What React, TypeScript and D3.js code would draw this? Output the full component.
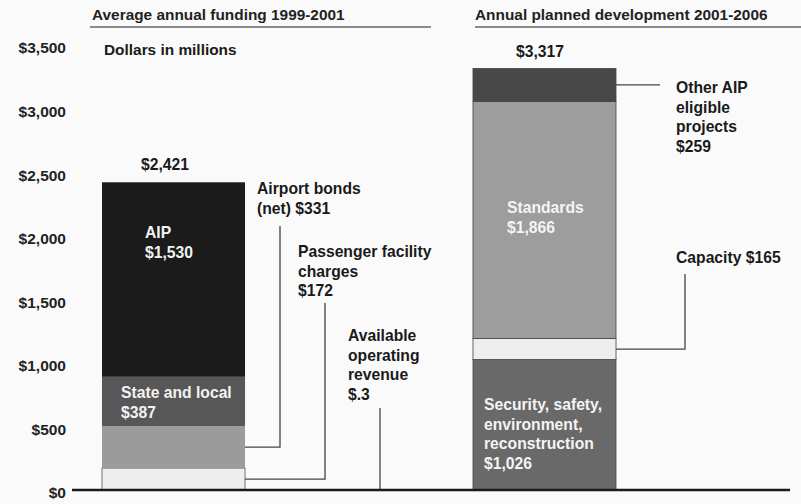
import React from 'react';
import * as d3 from 'd3';

// Values in millions of dollars, stacked bottom to top
const fundingSources = ['Available operating revenue', 'Passenger facility charges', 'Airport bonds (net)', 'State and local', 'AIP'];
const fundingValues = [0.3, 172, 331, 387, 1530];
const fundingColors = ['#f0f0f0', '#eeeeee', '#9b9b9b', '#575757', '#1b1b1b'];
const fundingTotal = '$2,421';

const developmentTypes = ['Security, safety, environment, reconstruction', 'Capacity', 'Standards', 'Other AIP eligible projects'];
const developmentValues = [1026, 165, 1866, 259];
const developmentColors = ['#696969', '#eeeeee', '#9d9d9d', '#484848'];
const developmentTotal = '$3,317';

const yTicks = [0, 500, 1000, 1500, 2000, 2500, 3000, 3500];

const W = 801;
const H = 504;
const FONT = '"Liberation Sans", Arial, Helvetica, sans-serif';

const stackUp = (values: number[]) => {
  let acc = 0;
  return values.map(v => {
    const y0 = acc;
    acc += v;
    return { y0, y1: acc, v };
  });
};

const App: React.FC = () => {
  const y = d3.scaleLinear().domain([0, 3500]).range([490, 45]);
  const x = d3.scaleBand().domain(['left', 'right']).range([102, 616]).paddingInner(0.6145).paddingOuter(0);
  const bw = x.bandwidth();
  const lx = x('left') || 0;
  const rx = x('right') || 0;

  const leftStack = stackUp(fundingValues);
  const rightStack = stackUp(developmentValues);
  const mid = (s: { y0: number; y1: number }) => y((s.y0 + s.y1) / 2);

  const txt = (xx: number, yy: number, lines: string[], fill = '#1a1a1a', anchor = 'start', size = 15.7) => (
    <text x={xx} y={yy} fill={fill} textAnchor={anchor} fontSize={size} fontWeight="bold" fontFamily={FONT}>
      {lines.map((l, i) => (
        <tspan key={i} x={xx} dy={i === 0 ? 0 : 19.5}>{l}</tspan>
      ))}
    </text>
  );

  return (
    <div style={{ position: 'fixed', left: 0, top: 0 }}>
      <svg width={W} height={H} style={{ display: 'block', background: '#fafafa' }}>
        {/* headers */}
        <text x={92} y={20} fontSize={15.4} fontWeight="bold" fontFamily={FONT} fill="#222">Average annual funding 1999-2001</text>
        <line x1={90} x2={431} y1={27} y2={27} stroke="#666" strokeWidth={1.5} />
        <text x={475} y={20} fontSize={15.4} fontWeight="bold" fontFamily={FONT} fill="#222">Annual planned development 2001-2006</text>
        <line x1={475} x2={801} y1={27} y2={27} stroke="#666" strokeWidth={1.5} />

        {/* y tick labels */}
        {yTicks.map(t => (
          <text key={t} x={66} y={y(t) + 3} dy="0.35em" textAnchor="end" fontSize={15.5} fontWeight="bold" fontFamily={FONT} fill="#222">
            {d3.format('$,')(t)}
          </text>
        ))}
        {txt(104, 55, ['Dollars in millions'], '#1a1a1a', 'start', 15.4)}

        {/* left bar */}
        {leftStack.map((s, i) => (
          <rect key={i} x={lx} width={bw} y={y(s.y1)} height={y(s.y0) - y(s.y1)} fill={fundingColors[i]}
            stroke={i < 2 ? '#555' : 'none'} strokeWidth={i < 2 ? 0.8 : 0} />
        ))}
        {/* right bar */}
        {rightStack.map((s, i) => (
          <rect key={i} x={rx} width={bw} y={y(s.y1)} height={y(s.y0) - y(s.y1)} fill={developmentColors[i]}
            stroke="#444" strokeWidth={0.8} />
        ))}

        {/* totals */}
        {txt(165, y(d3.sum(fundingValues)) - 12, [fundingTotal], '#1a1a1a', 'middle')}
        {txt(540, y(d3.sum(developmentValues)) - 11, [developmentTotal], '#1a1a1a', 'middle')}

        {/* labels inside bars */}
        {txt(145, 238, ['AIP', '$1,530'], '#f2f2f2')}
        {txt(121, 398, ['State and local', '$387'], '#f2f2f2')}
        {txt(507, 213, ['Standards', '$1,866'], '#f4f4f4')}
        {txt(484, 410, ['Security, safety,', 'environment,', 'reconstruction', '$1,026'], '#f4f4f4')}

        {/* connectors */}
        <g stroke="#444" strokeWidth={1.3} fill="none">
          <polyline points={`${lx + bw},${mid(leftStack[2])} 280,${mid(leftStack[2])} 280,226`} />
          <polyline points={`${lx + bw},${mid(leftStack[1])} 325,${mid(leftStack[1])} 325,303`} />
          <line x1={380} x2={380} y1={408} y2={y(0)} />
          <line x1={rx + bw} x2={660} y1={mid(rightStack[3])} y2={mid(rightStack[3])} />
          <polyline points={`${rx + bw},${mid(rightStack[1])} 685,${mid(rightStack[1])} 685,274`} />
        </g>

        {/* outside labels */}
        {txt(257, 194, ['Airport bonds', '(net) $331'])}
        {txt(298, 257, ['Passenger facility', 'charges', '$172'])}
        {txt(348, 341, ['Available', 'operating', 'revenue', '$.3'])}
        {txt(676, 93, ['Other AIP', 'eligible', 'projects', '$259'])}
        {txt(676, 263, ['Capacity $165'])}

        {/* baseline */}
        <line x1={72} x2={790} y1={y(0)} y2={y(0)} stroke="#1a1a1a" strokeWidth={2.5} />
      </svg>
    </div>
  );
};

export default App;
